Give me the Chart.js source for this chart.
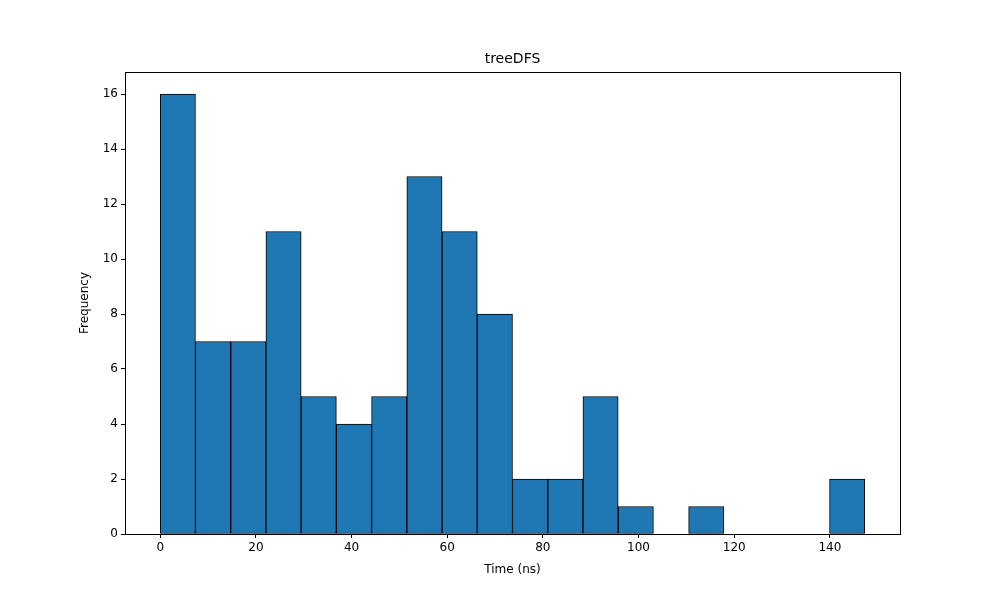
<!DOCTYPE html>
<html>
<head>
<script src="https://cdn.jsdelivr.net/npm/chart.js@4/dist/chart.umd.min.js"></script>
<style>body{margin:0}#wrap{width:1000px;height:600px}</style>
</head>
<body>
<div id="wrap"><canvas id="c"></canvas></div>
<script>
const titleText = 'treeDFS';
const xLabel = 'Time (ns)';
const yLabel = 'Frequency';
const binStart = 0;
const binWidth = 7.365;
const counts = [16, 7, 7, 11, 5, 4, 5, 13, 11, 8, 2, 2, 5, 1, 0, 1, 0, 0, 0, 2];
const xTicks = [0, 20, 40, 60, 80, 100, 120, 140];
const yTicks = [0, 2, 4, 6, 8, 10, 12, 14, 16];

const data = counts.map((v, i) => ({ x: binStart + binWidth * (i + 0.5), y: v }));
const xMax = binStart + binWidth * counts.length;
const pad = xMax * 0.05;

const frame = {
    id: 'frame',
    afterDraw(chart) {
        const { ctx, chartArea: a } = chart;
        ctx.save();
        ctx.strokeStyle = '#000';
        ctx.lineWidth = 1;
        ctx.strokeRect(a.left + 0.5, a.top + 0.5, a.right - a.left, a.bottom - a.top);
        ctx.fillStyle = '#000';
        ctx.textAlign = 'center';
        ctx.font = '14px "DejaVu Sans"';
        ctx.textBaseline = 'bottom';
        ctx.fillText(titleText, (a.left + a.right) / 2, a.top - 6);
        ctx.font = '12px "DejaVu Sans"';
        ctx.textBaseline = 'middle';
        ctx.fillText(xLabel, (a.left + a.right) / 2, 570);
        ctx.translate(85, (a.top + a.bottom) / 2);
        ctx.rotate(-Math.PI / 2);
        ctx.fillText(yLabel, 0, 0);
        ctx.restore();
    }
};

new Chart(document.getElementById('c'), {
    type: 'bar',
    data: {
        datasets: [{
            data: data,
            backgroundColor: '#1f77b4',
            borderColor: '#000',
            borderWidth: 1,
            borderSkipped: false,
            barPercentage: 1,
            categoryPercentage: 1,
            grouped: false
        }]
    },
    options: {
        responsive: true,
        maintainAspectRatio: false,
        animation: false,
        layout: { padding: { left: 0, right: 100, top: 72, bottom: 0 } },
        plugins: { legend: { display: false }, tooltip: { enabled: false } },
        scales: {
            x: {
                type: 'linear',
                offset: false,
                min: binStart - pad,
                max: xMax + pad,
                afterFit(s) { s.height = 66; },
                grid: { drawOnChartArea: false, tickLength: 4, color: '#000', offset: false },
                border: { display: false },
                ticks: { color: '#000', font: { family: 'DejaVu Sans', size: 12 } },
                afterBuildTicks(s) { s.ticks = xTicks.map(v => ({ value: v })); }
            },
            y: {
                min: 0,
                max: 16 * 1.05,
                afterFit(s) { s.width = 125; },
                grid: { drawOnChartArea: false, tickLength: 4, color: '#000' },
                border: { display: false },
                ticks: { color: '#000', font: { family: 'DejaVu Sans', size: 12 } },
                afterBuildTicks(s) { s.ticks = yTicks.map(v => ({ value: v })); }
            }
        }
    },
    plugins: [frame]
});
</script>
</body>
</html>
